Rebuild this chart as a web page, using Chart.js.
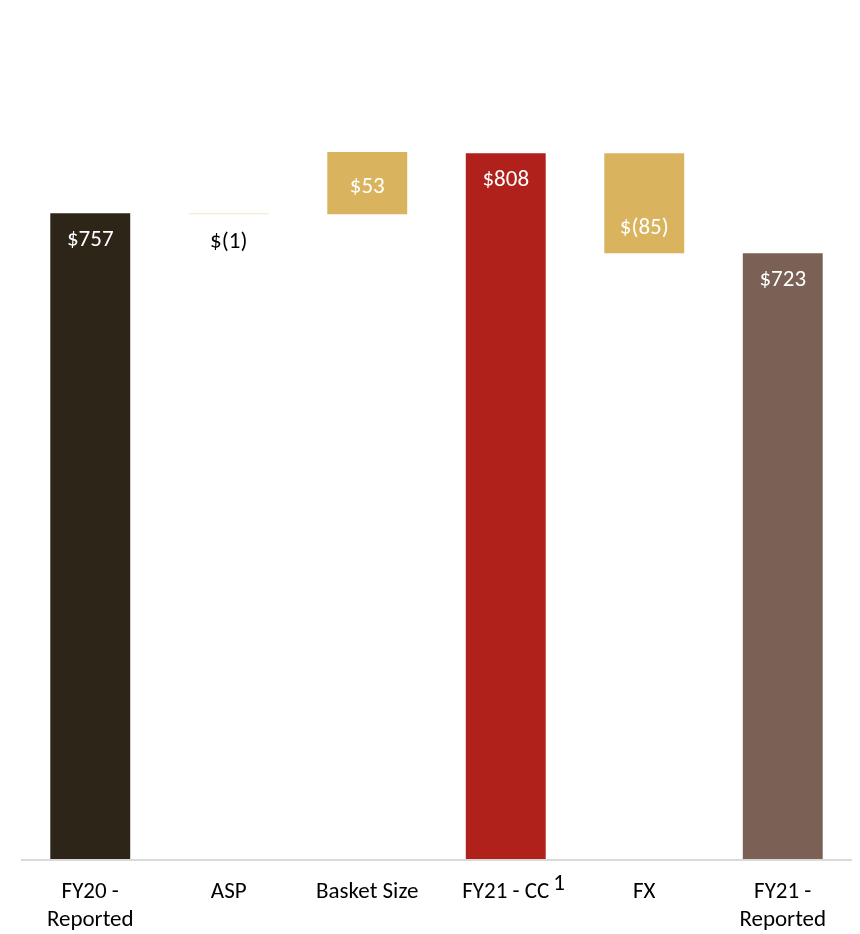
<!DOCTYPE html>
<html>
<head>
<meta charset="utf-8">
<script src="https://cdn.jsdelivr.net/npm/chart.js@4/dist/chart.umd.min.js"></script>
<style>
  html, body { margin: 0; padding: 0; background: #ffffff; }
  #wrap { width: 860px; height: 934px; position: relative; }
</style>
</head>
<body>
<div id="wrap"><canvas id="c" width="860" height="934"></canvas></div>
<script>
// Revenue bridge, FY20 reported to FY21 reported ($M)
const categories = [['FY20 -', 'Reported'], 'ASP', 'Basket Size', 'FY21 - CC', 'FX', ['FY21 -', 'Reported']];
const changes = [757, -1, 53, 808, -85, 723];
const isTotal = [true, false, false, true, false, true];
const barColors = ['#2E2519', '#F3E6C6', '#D9B35E', '#B0211C', '#D9B35E', '#7A6055'];
const footnotes = [null, null, null, '1', null, null];

const FONT = "Carlito, Calibri, Lato, 'Open Sans', sans-serif";
const FONT_SIZE = 23;

// Running totals turn each step into a floating [from, to] range
const ranges = [];
let running = 0;
changes.forEach((v, i) => {
  if (isTotal[i]) { ranges.push([0, v]); running = v; }
  else { ranges.push([running, running + v]); running += v; }
});

const money = v => v < 0 ? '$(' + Math.abs(v) + ')' : '$' + v;

const valueLabels = {
  id: 'valueLabels',
  afterDatasetsDraw(chart) {
    const ctx = chart.ctx;
    const meta = chart.getDatasetMeta(0);
    ctx.save();
    ctx.font = FONT_SIZE + 'px ' + FONT;
    ctx.textAlign = 'center';
    ctx.textBaseline = 'middle';
    meta.data.forEach((bar, i) => {
      const v = changes[i];
      const top = Math.min(bar.y, bar.base);
      const bottom = Math.max(bar.y, bar.base);
      const h = bottom - top;
      let y, color = '#ffffff';
      if (isTotal[i]) {
        y = top + 27;
      } else if (v < 0 && h < 30) {
        y = bottom + 28; color = '#000000';
      } else if (v < 0) {
        y = bottom - 25;
      } else {
        y = (top + bottom) / 2 + 4;
      }
      ctx.fillStyle = color;
      ctx.fillText(money(v), bar.x, y);
    });
    // baseline rule across the plot
    const a = chart.chartArea;
    ctx.strokeStyle = '#D9D9D9';
    ctx.lineWidth = 2;
    ctx.beginPath();
    ctx.moveTo(a.left, a.bottom);
    ctx.lineTo(a.right, a.bottom);
    ctx.stroke();
    ctx.restore();
  },
  afterDraw(chart) {
    // raised footnote markers after category names
    const ctx = chart.ctx;
    const xs = chart.scales.x;
    const a = chart.chartArea;
    ctx.save();
    ctx.font = FONT_SIZE + 'px ' + FONT;
    ctx.fillStyle = '#000000';
    ctx.textBaseline = 'middle';
    ctx.textAlign = 'left';
    footnotes.forEach((f, i) => {
      if (!f) return;
      const w = ctx.measureText(categories[i]).width;
      const x = xs.getPixelForValue(i) + w / 2 + 4;
      ctx.fillText(f, x, a.bottom + 24);
    });
    ctx.restore();
  }
};

new Chart(document.getElementById('c'), {
  type: 'bar',
  data: {
    labels: categories,
    datasets: [{
      data: ranges,
      backgroundColor: barColors,
      borderWidth: 0,
      borderSkipped: false,
      barPercentage: 0.577,
      categoryPercentage: 1.0
    }]
  },
  options: {
    responsive: false,
    animation: false,
    layout: { padding: { left: 21, right: 8, top: 45, bottom: 0 } },
    plugins: { legend: { display: false }, tooltip: { enabled: false } },
    scales: {
      x: {
        grid: { display: false, drawTicks: false },
        border: { display: false },
        ticks: {
          color: '#000000',
          font: { family: FONT, size: FONT_SIZE, lineHeight: 28 / FONT_SIZE },
          padding: 18,
          maxRotation: 0,
          autoSkip: false
        },
        afterFit(scale) { scale.height = 74; }
      },
      y: {
        display: false,
        min: 207,
        max: 900
      }
    }
  },
  plugins: [valueLabels]
});
</script>
</body>
</html>
